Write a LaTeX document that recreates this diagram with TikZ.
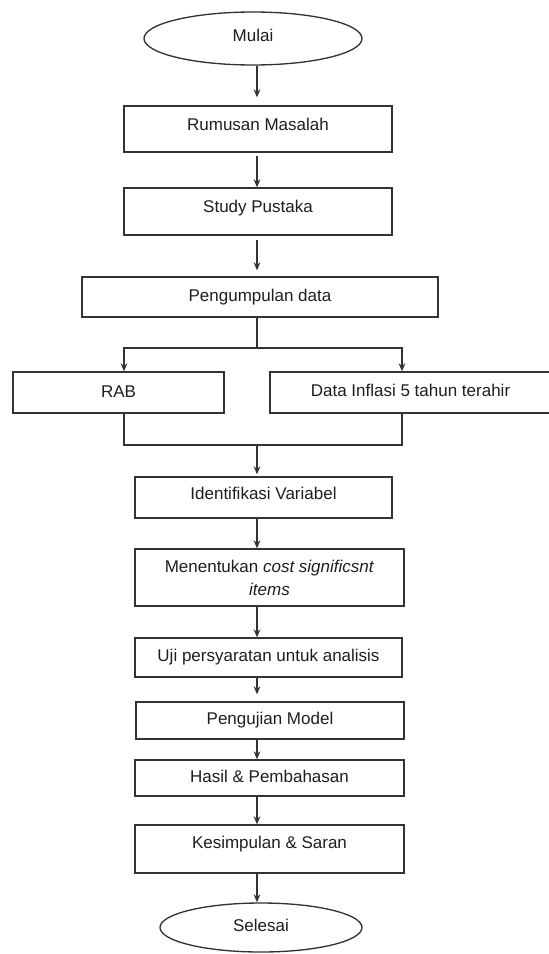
\documentclass[tikz,border=0pt]{standalone}
\usepackage{fontspec}
\setmainfont{Liberation Sans}
\usetikzlibrary{shapes.geometric,arrows.meta}
\definecolor{lineclr}{HTML}{333333}
\definecolor{txtclr}{HTML}{1E1E1E}
\begin{document}
\begin{tikzpicture}[x=0.75pt,y=-0.75pt,
  font=\fontsize{12.75}{17.25}\selectfont,
  box/.style={draw=lineclr, line width=1pt, rectangle, inner sep=0pt, text=txtclr},
  oval/.style={draw=lineclr, line width=1pt, ellipse, inner sep=0pt, text=txtclr},
  tx/.style={text height=9.2pt, text depth=#1},
  tx/.default=2.7pt,
  conn/.style={draw=lineclr, line width=1pt},
  arr/.style={conn, -{Stealth[length=6pt,width=5pt]}}
]
\useasboundingbox (0,0) rectangle (549,954);

\coordinate (spine) at (257,0);

\node[oval, tx=4.95pt, minimum width=163.5pt, minimum height=39.75pt] (mulai) at (253,38.5) {Mulai};
\node[box, tx=7.2pt, minimum width=201pt, minimum height=34.5pt] (rumusan) at (258,129) {Rumusan Masalah};
\node[box, tx=7.95pt, minimum width=201pt, minimum height=35.25pt] (study) at (258,211.5) {Study Pustaka};
\node[box, tx, minimum width=267pt, minimum height=30pt] (peng) at (260,297) {Pengumpulan data};
\node[box, tx=1.95pt, minimum width=158.25pt, minimum height=30.75pt] (rab) at (118.5,392.5) {RAB};
\node[box, tx, minimum width=210.75pt, minimum height=30.75pt] (inflasi) at (410.5,392.5) {Data Inflasi 5 tahun terahir};
\node[box, tx=6.45pt, minimum width=192.75pt, minimum height=30.75pt] (ident) at (263.5,497.5) {Identifikasi Variabel};
\node[box, align=center, minimum width=201.75pt, minimum height=42.75pt] (menent) at (269.5,577.5) {Menentukan \textit{cost significsnt}\\\textit{items}};
\node[box, tx, minimum width=200.25pt, minimum height=29.25pt] (uji) at (268.5,657.5) {Uji persyaratan untuk analisis};
\node[box, tx, minimum width=201pt, minimum height=27.75pt] (pengujian) at (270,720.5) {Pengujian Model};
\node[box, tx, minimum width=201.75pt, minimum height=27pt] (hasil) at (269.5,778) {Hasil \& Pembahasan};
\node[box, tx=10.2pt, minimum width=201.75pt, minimum height=36pt] (kesimpulan) at (269.5,849) {Kesimpulan \& Saran};
\node[oval, tx, minimum width=151.5pt, minimum height=36.75pt] (selesai) at (261,927.5) {Selesai};

\coordinate (split) at (257,348);
\coordinate (bl) at (124,348);
\coordinate (br) at (402,348);
\coordinate (merge) at (257,445);
\coordinate (ml) at (124,445);
\coordinate (mr) at (402,445);

\draw[arr, shorten >=6pt] (mulai.south -| spine) -- (rumusan.north -| spine);
\draw[arr, shorten <=2.25pt] (rumusan.south -| spine) -- (study.north -| spine);
\draw[arr, shorten <=3pt, shorten >=4.5pt] (study.south -| spine) -- (peng.north -| spine);
\draw[conn] (peng.south -| split) -- (split);
\draw[arr] (split) -- (bl) -- (rab.north -| bl);
\draw[arr] (split) -- (br) -- (inflasi.north -| br);
\draw[conn] (rab.south -| ml) -- (ml) -- (mr) -- (inflasi.south -| mr);
\draw[arr, shorten >=1.5pt] (merge) -- (ident.north -| spine);
\draw[arr] (ident.south -| spine) -- (menent.north -| spine);
\draw[arr] (menent.south -| spine) -- (uji.north -| spine);
\draw[arr, shorten >=5.25pt] (uji.south -| spine) -- (pengujian.north -| spine);
\draw[arr] (pengujian.south -| spine) -- (hasil.north -| spine);
\draw[arr] (hasil.south -| spine) -- (kesimpulan.north -| spine);
\draw[arr] (kesimpulan.south -| spine) -- (selesai.north -| spine);
\end{tikzpicture}
\end{document}
